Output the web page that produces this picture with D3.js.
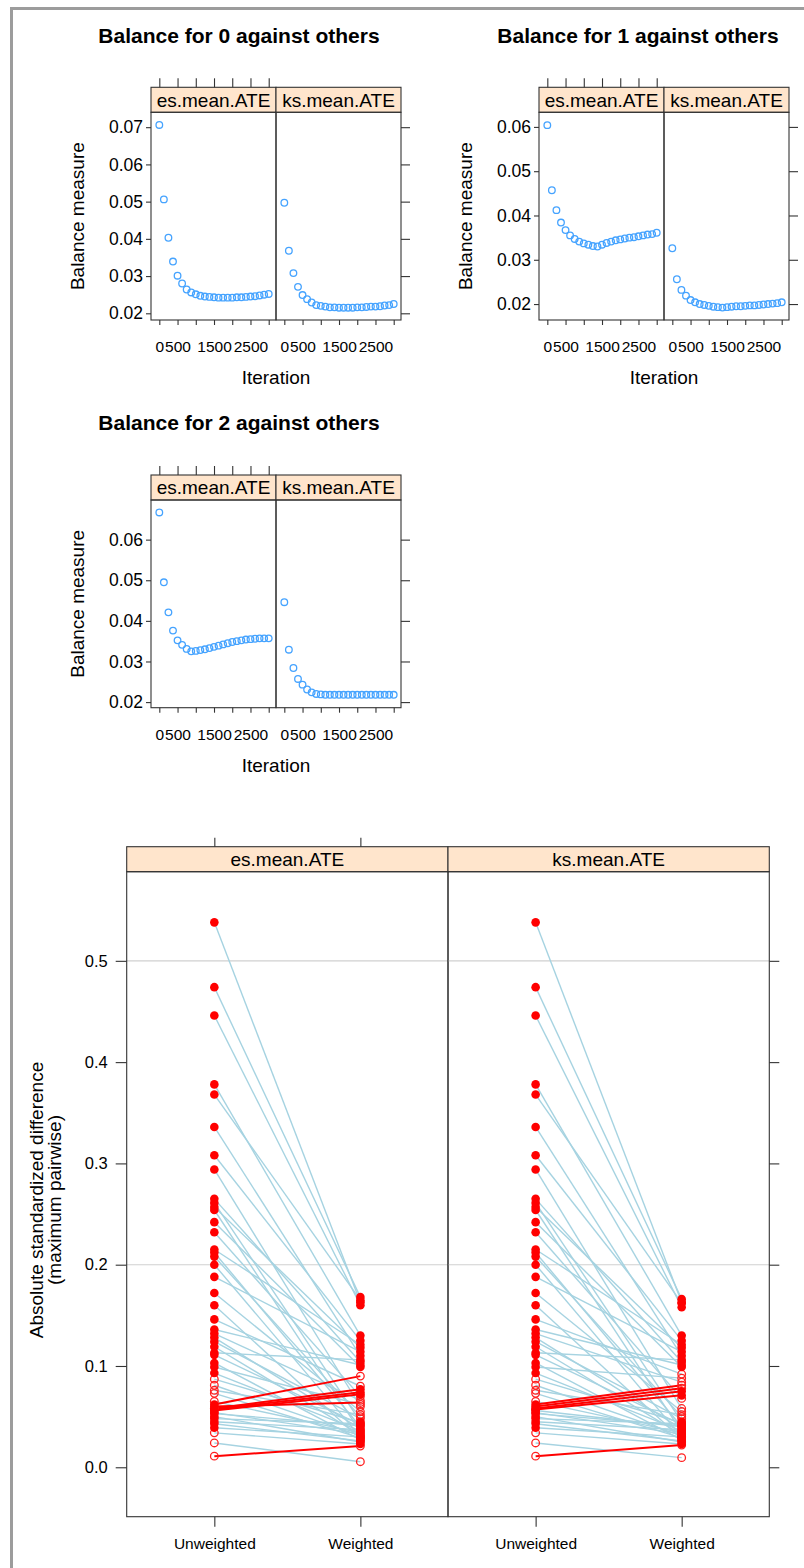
<!DOCTYPE html>
<html><head><meta charset="utf-8">
<script src="https://cdn.jsdelivr.net/npm/d3@7"></script>
<style>
body{margin:0;background:#fff}
svg{display:block}
text{font-family:"Liberation Sans",Arial,Helvetica,sans-serif;fill:#000}
</style>
</head><body>
<svg id="c" width="804" height="1568"></svg>
<script>
// ---------- DATA ----------
const iterations = [0,125,250,375,500,625,750,875,1000,1125,1250,1375,1500,1625,1750,1875,2000,2125,2250,2375,2500,2625,2750,2875,3000];
const xTickValues = [0,500,1000,1500,2000,2500,3000];
const xTickLabels = [0,500,1500,2500];
const measures = ["es.mean.ATE","ks.mean.ATE"];

const es0 = [0.0706,0.0506,0.0403,0.0339,0.0301,0.0280,0.0264,0.0256,0.0251,0.0247,0.0245,0.0244,0.0243,0.0242,0.0242,0.0242,0.0242,0.0243,0.0243,0.0244,0.0245,0.0246,0.0248,0.0250,0.0252];
const ks0 = [0.0497,0.0368,0.0308,0.0271,0.0249,0.0238,0.0229,0.0222,0.0220,0.0218,0.0216,0.0216,0.0215,0.0215,0.0215,0.0215,0.0216,0.0216,0.0217,0.0218,0.0218,0.0219,0.0221,0.0222,0.0225];
const es1 = [0.0604,0.0457,0.0412,0.0384,0.0367,0.0355,0.0347,0.0341,0.0337,0.0334,0.0331,0.0330,0.0334,0.0338,0.0341,0.0344,0.0346,0.0348,0.0350,0.0351,0.0353,0.0355,0.0357,0.0358,0.0361];
const ks1 = [0.0326,0.0256,0.0232,0.0219,0.0209,0.0204,0.0200,0.0198,0.0196,0.0194,0.0193,0.0192,0.0193,0.0194,0.0195,0.0195,0.0196,0.0197,0.0197,0.0198,0.0199,0.0200,0.0201,0.0202,0.0204];
const es2 = [0.0667,0.0495,0.0421,0.0376,0.0352,0.0341,0.0331,0.0325,0.0326,0.0328,0.0330,0.0333,0.0336,0.0339,0.0342,0.0345,0.0348,0.0350,0.0352,0.0354,0.0355,0.0356,0.0357,0.0357,0.0357];
const ks2 = [0.0446,0.0329,0.0284,0.0257,0.0243,0.0231,0.0224,0.0220,0.0219,0.0218,0.0218,0.0218,0.0218,0.0218,0.0218,0.0218,0.0218,0.0218,0.0218,0.0218,0.0218,0.0218,0.0218,0.0218,0.0218];

const yTicks0 = [0.02,0.03,0.04,0.05,0.06,0.07];
const yTicks1 = [0.02,0.03,0.04,0.05,0.06];
const yTicks2 = [0.02,0.03,0.04,0.05,0.06];

// bottom chart: absolute standardized differences per covariate
const groups = ["Unweighted","Weighted"];
const unweighted = [0.538,0.474,0.446,0.378,0.368,0.336,0.308,0.294,0.265,0.261,0.257,0.254,0.242,0.232,0.215,0.212,0.208,0.200,0.188,0.172,0.160,0.146,0.136,0.132,0.128,0.124,0.119,0.113,0.111,0.103,0.099,0.093,0.087,0.081,0.076,0.073,0.065,0.062,0.060,0.058,0.057,0.056,0.054,0.053,0.050,0.048,0.045,0.043,0.039,0.034,0.024,0.011];
const unweightedSig = [1,1,1,1,1,1,1,1,1,1,1,1,1,1,1,1,1,1,1,1,1,1,1,1,1,1,1,1,1,1,1,1,0,0,0,0,0,1,1,0,1,1,1,1,1,1,1,1,1,0,0,0];
const esWeighted = [0.163,0.168,0.160,0.130,0.165,0.110,0.125,0.060,0.104,0.045,0.118,0.035,0.099,0.070,0.121,0.040,0.050,0.030,0.114,0.055,0.028,0.080,0.101,0.066,0.038,0.048,0.032,0.106,0.042,0.027,0.062,0.036,0.044,0.031,0.052,0.029,0.034,0.090,0.064,0.077,0.074,0.072,0.033,0.041,0.025,0.043,0.037,0.026,0.030,0.023,0.0055,0.021];
const esWeightedSig = [1,1,1,1,1,1,1,0,1,1,1,1,1,0,1,1,0,1,1,0,1,0,1,0,1,0,1,1,1,1,0,1,1,1,0,1,1,0,0,1,1,1,1,1,0,1,1,1,0,1,0,0];
const ksWeighted = [0.163,0.166,0.158,0.130,0.162,0.110,0.125,0.058,0.104,0.045,0.118,0.035,0.099,0.068,0.121,0.040,0.050,0.030,0.114,0.055,0.028,0.092,0.101,0.084,0.038,0.048,0.032,0.106,0.042,0.027,0.088,0.036,0.044,0.031,0.052,0.029,0.034,0.081,0.078,0.075,0.071,0.040,0.033,0.041,0.025,0.043,0.037,0.026,0.030,0.023,0.0095,0.022];
const ksWeightedSig = [1,1,1,1,1,1,1,0,1,1,1,1,1,0,1,1,0,1,1,0,1,0,1,0,1,0,1,1,1,1,0,1,1,1,0,1,1,0,0,1,1,1,1,1,0,1,1,1,0,1,0,0];
const yTicksBottom = [0.0,0.1,0.2,0.3,0.4,0.5];
const refLines = [0.2,0.5];

// ---------- DRAWING ----------
const svg = d3.select("#c");
const AX = "#333";
const STRIP = "#ffe5cc";
const BLUE = "#45a3ff";

// grey frame
svg.append("path").attr("d","M11.5,1568 V8.5 H804").attr("fill","none")
  .attr("stroke","#9c9c9c").attr("stroke-width",3);

function styleAxis(sel, fs){
  sel.select(".domain").remove();
  sel.selectAll(".tick line").attr("stroke",AX).attr("stroke-width",1.1);
  sel.selectAll(".tick text").attr("font-size",fs).attr("fill","#111")
     .style("font-family",'"Liberation Sans",Arial,sans-serif');
}

function balancePlot(cfg){
  const subW = 125, stripH = 25, plotH = 207.7;
  const x0 = cfg.x0, top = cfg.top;
  const panelTop = top + stripH, panelBottom = panelTop + plotH;
  const g = svg.append("g");
  const xs = d3.scaleLinear().domain([-228,3200]).range([0,subW]);
  const ys = d3.scaleLinear().domain(cfg.yDomain).range([panelBottom,panelTop]);

  g.append("text").attr("x",cfg.titleX).attr("y",cfg.titleY).attr("text-anchor","middle")
    .attr("font-size",21).attr("font-weight","bold").text(cfg.title);

  [cfg.es, cfg.ks].forEach((vals,i)=>{
    const pg = g.append("g").attr("transform",`translate(${x0+i*subW},0)`);
    pg.append("rect").attr("x",0).attr("y",top).attr("width",subW).attr("height",stripH)
      .attr("fill",STRIP).attr("stroke",AX).attr("stroke-width",1.1);
    pg.append("text").attr("x",subW/2).attr("y",top+stripH/2).attr("dy","0.36em")
      .attr("text-anchor","middle").attr("font-size",19).text(measures[i]);
    pg.append("rect").attr("x",0).attr("y",panelTop).attr("width",subW).attr("height",plotH)
      .attr("fill","none").attr("stroke",AX).attr("stroke-width",1.1);
    pg.selectAll("circle.pt").data(iterations.map((it,k)=>({it, v: vals[k]})))
      .join("circle").attr("class","pt")
      .attr("cx",d=>xs(d.it)).attr("cy",d=>ys(d.v)).attr("r",3.3)
      .attr("fill","none").attr("stroke",BLUE).attr("stroke-width",1.3);
    const bx = pg.append("g").attr("transform",`translate(0,${panelBottom})`)
      .call(d3.axisBottom(xs).tickValues(xTickValues).tickSize(5).tickPadding(16)
        .tickFormat(d=> xTickLabels.includes(d) ? String(d) : ""));
    styleAxis(bx, 15.5);
    if(i===0){
      const tx = pg.append("g").attr("transform",`translate(0,${top})`)
        .call(d3.axisTop(xs).tickValues(xTickValues).tickSize(9).tickFormat(""));
      styleAxis(tx, 15.5);
    }
  });
  const ly = g.append("g").attr("transform",`translate(${x0},0)`)
    .call(d3.axisLeft(ys).tickValues(cfg.yTicks).tickSize(5).tickPadding(3).tickFormat(d3.format(".2f")));
  styleAxis(ly, 17.5);
  const ry = g.append("g").attr("transform",`translate(${x0+2*subW},0)`)
    .call(d3.axisRight(ys).tickValues(cfg.yTicks).tickSize(9).tickFormat(""));
  styleAxis(ry, 15.5);

  g.append("text").attr("x",x0+subW).attr("y",panelBottom+64).attr("text-anchor","middle")
    .attr("font-size",19).text("Iteration");
  const cy = (panelTop+panelBottom)/2;
  g.append("text").attr("transform",`translate(${x0-67},${cy}) rotate(-90)`)
    .attr("text-anchor","middle").attr("font-size",19).text("Balance measure");
}

balancePlot({x0:151, top:87.3, title:"Balance for 0 against others", titleX:239, titleY:43,
  yDomain:[0.0182,0.074], yTicks:yTicks0, es:es0, ks:ks0});
balancePlot({x0:539, top:87.3, title:"Balance for 1 against others", titleX:638, titleY:43,
  yDomain:[0.0164,0.0633], yTicks:yTicks1, es:es1, ks:ks1});
balancePlot({x0:151, top:475, title:"Balance for 2 against others", titleX:239, titleY:430,
  yDomain:[0.01862,0.06976], yTicks:yTicks2, es:es2, ks:ks2});

// ---------- bottom chart ----------
(function(){
  const left = 126.7, pw = 321.3, stripTop = 846.7, stripH = 25;
  const pTop = stripTop + stripH, pBottom = 1516.7;
  const g = svg.append("g");
  const ys = d3.scaleLinear().domain([-0.0488,0.588]).range([pBottom,pTop]);
  const xs = d3.scalePoint().domain(groups).range([0,pw]).padding(0.6);
  const weightedSets = [[esWeighted,esWeightedSig],[ksWeighted,ksWeightedSig]];

  measures.forEach((m,i)=>{
    const pg = g.append("g").attr("transform",`translate(${left+i*pw},0)`);
    pg.append("rect").attr("x",0).attr("y",stripTop).attr("width",pw).attr("height",stripH)
      .attr("fill",STRIP).attr("stroke",AX).attr("stroke-width",1.1);
    pg.append("text").attr("x",pw/2).attr("y",stripTop+stripH/2).attr("dy","0.36em")
      .attr("text-anchor","middle").attr("font-size",19).text(m);
    pg.selectAll("line.ref").data(refLines).join("line").attr("class","ref")
      .attr("x1",0).attr("x2",pw).attr("y1",d=>ys(d)).attr("y2",d=>ys(d))
      .attr("stroke","#d0d0d0").attr("stroke-width",1.1);
    const [wv, ws] = weightedSets[i];
    const pairs = unweighted.map((u,k)=>({u, w: wv[k], us: unweightedSig[k], ws: ws[k]}));
    const blue = pairs.filter(p=>p.w<=p.u), red = pairs.filter(p=>p.w>p.u);
    pg.selectAll("line.b").data(blue).join("line").attr("class","b")
      .attr("x1",xs(groups[0])).attr("x2",xs(groups[1]))
      .attr("y1",d=>ys(d.u)).attr("y2",d=>ys(d.w))
      .attr("stroke","#a6d3e1").attr("stroke-width",1.4);
    pg.selectAll("line.r").data(red).join("line").attr("class","r")
      .attr("x1",xs(groups[0])).attr("x2",xs(groups[1]))
      .attr("y1",d=>ys(d.u)).attr("y2",d=>ys(d.w))
      .attr("stroke","#ff0000").attr("stroke-width",2);
    const pts = [];
    pairs.forEach(p=>{ pts.push({g:groups[0],v:p.u,s:p.us}); pts.push({g:groups[1],v:p.w,s:p.ws}); });
    pg.selectAll("circle.o").data(pts.filter(p=>!p.s)).join("circle").attr("class","o")
      .attr("cx",d=>xs(d.g)).attr("cy",d=>ys(d.v)).attr("r",3.8)
      .attr("fill","none").attr("stroke","#ff2020").attr("stroke-width",1.3);
    pg.selectAll("circle.f").data(pts.filter(p=>p.s)).join("circle").attr("class","f")
      .attr("cx",d=>xs(d.g)).attr("cy",d=>ys(d.v)).attr("r",4.3)
      .attr("fill","#ff0000");
    pg.append("rect").attr("x",0).attr("y",pTop).attr("width",pw).attr("height",pBottom-pTop)
      .attr("fill","none").attr("stroke",AX).attr("stroke-width",1.1);
    const bx = pg.append("g").attr("transform",`translate(0,${pBottom})`)
      .call(d3.axisBottom(xs).tickSize(10).tickPadding(11));
    styleAxis(bx, 15.5);
    if(i===0){
      const tx = pg.append("g").attr("transform",`translate(0,${stripTop})`)
        .call(d3.axisTop(xs).tickSize(9).tickFormat(""));
      styleAxis(tx, 15.5);
    }
  });
  const ly = g.append("g").attr("transform",`translate(${left},0)`)
    .call(d3.axisLeft(ys).tickValues(yTicksBottom).tickSize(11).tickPadding(8).tickFormat(d3.format(".1f")));
  styleAxis(ly, 16.5);
  const ry = g.append("g").attr("transform",`translate(${left+2*pw},0)`)
    .call(d3.axisRight(ys).tickValues(yTicksBottom).tickSize(10).tickFormat(""));
  styleAxis(ry, 15.5);

  const cy = 1200;
  const yl = g.append("text").attr("transform",`translate(0,${cy}) rotate(-90)`)
    .attr("text-anchor","middle").attr("font-size",19);
  yl.append("tspan").attr("x",0).attr("y",43).text("Absolute standardized difference");
  yl.append("tspan").attr("x",0).attr("y",61).text("(maximum pairwise)");
})();
</script>
</body></html>
